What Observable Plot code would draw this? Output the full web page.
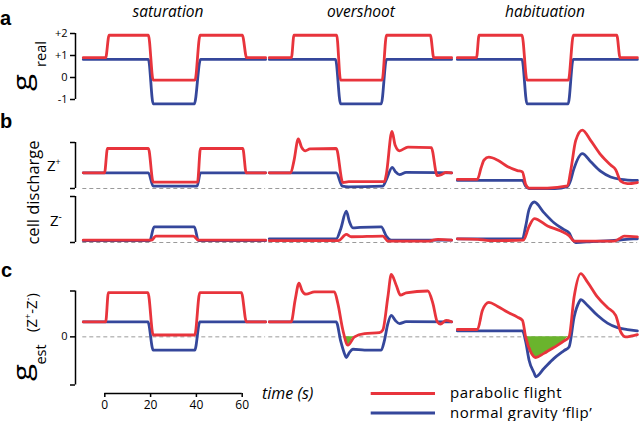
<!DOCTYPE html>
<html><head><meta charset="utf-8">
<script src="https://cdn.jsdelivr.net/npm/d3@7"></script>
<script src="https://cdn.jsdelivr.net/npm/@observablehq/plot@0.6"></script>
<style>
body{margin:0;background:#fff;}
#fig{position:relative;width:640px;height:421px;overflow:hidden;background:#fff;font-family:"Open Sans",sans-serif;}
#fig > svg{position:absolute;left:0;}
</style></head><body><div id="fig"></div>
<script>
// ---------- categories & labels ----------
const conditions = ["saturation", "overshoot", "habituation"];
const seriesNames = ["parabolic flight", "normal gravity \u2018flip\u2019"];
const timeTicks = [0, 20, 40, 60];
const gRealTicks = [-1, 0, 1, 2];

// ---------- row a : g real  [time s, g] ----------
const gRealFlightSat = [[-9.8,0.9],[0,0.9],[1.5,1.92],[18.7,1.92],[20.8,-0.12],[39.1,-0.12],[41.3,1.92],[59.8,1.92],[61.7,0.9],[70,0.9]];
const gRealFlipSat   = [[-9.8,0.82],[18.7,0.82],[20.8,-1.2],[38.8,-1.2],[41.5,0.82],[70,0.82]];
const gRealFlightOvr = [[-9.8,0.9],[-0.1,0.9],[1.0,1.92],[19.7,1.92],[21.4,-0.12],[39.6,-0.12],[41.5,1.92],[60.7,1.92],[62.2,0.9],[70,0.9]];
const gRealFlipOvr   = [[-9.8,0.82],[19.2,0.82],[21.4,-1.2],[39.2,-1.2],[41.5,0.82],[70,0.82]];
const gRealFlightHab = [[-8.9,0.9],[-0.5,0.9],[0.6,1.92],[19.4,1.92],[21.6,-0.12],[39.7,-0.12],[41.9,1.92],[60.9,1.92],[62.3,0.9],[69.9,0.9]];
const gRealFlipHab   = [[-8.9,0.82],[19.4,0.82],[21.6,-1.2],[39.6,-1.2],[41.8,0.82],[69.9,0.82]];

// ---------- row b : Z+ discharge [time s, a.u.] ----------
const zPlusFlightSat = [[-9.8,0.34],[-0.5,0.34],[0.8,0.87],[18.7,0.87],[20.8,0.14],[40.2,0.14],[41.5,0.87],[60,0.87],[61.5,0.34],[70,0.34]];
const zPlusFlipSat   = [[-9.8,0.34],[18.7,0.34],[20.8,0.05],[40,0.05],[41.5,0.34],[70,0.34]];
const zPlusFlightOvr = [[-9.8,0.34],[-0.4,0.34],[1.0,0.6],[2.9,1.08],[4.3,0.9],[6.0,0.82],[8.0,0.86],[19.5,0.87],[22.4,0.13],[25,0.15],[40.6,0.15],[41.4,0.3],[43.9,1.24],[45.3,0.94],[47.2,0.82],[50.9,0.9],[61.1,0.89],[63.7,0.28],[65.5,0.3],[67.6,0.35],[70,0.34]];
const zPlusFlipOvr   = [[-9.8,0.34],[19.5,0.34],[22.2,0.05],[25,0.035],[39.8,0.05],[41.5,0.2],[44,0.46],[45.5,0.36],[47.2,0.3],[50.1,0.35],[70,0.34]];
const zPlusFlightHab = [[-8.9,0.2],[-0.1,0.2],[1.5,0.45],[2.8,0.62],[4.9,0.68],[8.6,0.62],[13,0.48],[17.4,0.39],[19.6,0.36],[21,0.09],[22.5,0.01],[30.5,0.01],[39.3,0.055],[40.8,0.41],[42.9,1.04],[45.8,1.27],[49.5,1.04],[53.9,0.73],[58.2,0.51],[60.4,0.41],[62.6,0.16],[65.5,0.105],[69.9,0.13]];
const zPlusFlipHab   = [[-8.9,0.175],[19.6,0.175],[21,0.05],[22.5,0.0],[33.8,0.0],[39.3,0.04],[40.5,0.15],[42,0.41],[45.8,0.76],[49.5,0.58],[53.9,0.37],[58.2,0.25],[62.6,0.2],[69.9,0.175]];

// ---------- row b : Z- discharge [time s, a.u.] ----------
const zMinusFlightSat = [[-9.8,0.05],[20.1,0.05],[21.9,0.14],[38.4,0.14],[40.6,0.05],[70,0.05]];
const zMinusFlipSat   = [[-9.8,0.04],[19.3,0.04],[21.2,0.34],[38.8,0.34],[40.6,0.04],[70,0.04]];
const zMinusFlightOvr = [[-9.8,0.04],[20.4,0.04],[23.9,0.175],[26.1,0.125],[39.9,0.14],[42.1,0.03],[60,0.03],[64,0.07],[70,0.05]];
const zMinusFlipOvr   = [[-9.8,0.08],[19.5,0.08],[21.5,0.3],[23.9,0.68],[25.3,0.45],[26.8,0.32],[30,0.33],[39.2,0.34],[41.4,0.14],[43.6,0.05],[70,0.05]];
const zMinusFlightHab = [[-8.9,0.08],[0,0.07],[5,0.04],[20,0.05],[22.5,0.35],[24.8,0.52],[30.6,0.36],[36.4,0.25],[40,0.15],[42.2,0.03],[59.7,0.03],[62,0.08],[64.1,0.14],[69.9,0.12]];
const zMinusFlipHab   = [[-8.9,0.08],[19.6,0.08],[21,0.35],[22.5,0.72],[24.8,0.88],[29,0.65],[33.4,0.43],[37.8,0.28],[40,0.21],[41.5,0.066],[43,0.0],[50,0.02],[61,0.05],[68.3,0.08],[69.9,0.08]];

// ---------- row c : g est = Z+ - Z- [time s, a.u.] ----------
const gEstFlightSat = [[-9.8,0.325],[0,0.325],[1.2,0.965],[18.5,0.965],[20.8,0.04],[39,0.04],[41.2,0.965],[59.4,0.965],[61.6,0.325],[70,0.325]];
const gEstFlipSat   = [[-9.8,0.325],[18.5,0.325],[20.8,-0.29],[39,-0.29],[41.2,0.325],[70,0.325]];
const gEstFlightOvr = [[-9.8,0.325],[-0.2,0.325],[1.5,0.8],[3.2,1.17],[4.6,1.0],[6.3,0.93],[10,0.98],[18.7,0.98],[20.2,0.73],[22.4,0.15],[24.6,-0.18],[27.5,0.0],[31.9,0.07],[38.4,0.09],[39.9,0.15],[42.1,0.87],[43.6,1.36],[45.8,1.12],[47.6,0.91],[50.1,0.96],[59.6,1.0],[61.8,0.73],[63.7,0.33],[65.1,0.28],[67.6,0.36],[70,0.33]];
const gEstFlipOvr   = [[-9.8,0.325],[19.5,0.325],[21.5,-0.1],[23,-0.35],[23.9,-0.45],[25.3,-0.34],[26.8,-0.27],[31.9,-0.29],[39.2,-0.29],[40.5,-0.1],[42.1,0.29],[43.6,0.47],[45.3,0.36],[47.2,0.29],[50.1,0.33],[70,0.325]];
const gEstFlightHab = [[-8.9,0.16],[-0.1,0.16],[2.1,0.58],[4.9,0.75],[8.6,0.67],[13,0.54],[17.4,0.43],[19.6,0.36],[21,0.0],[23.2,-0.33],[25.4,-0.45],[29,-0.36],[33.4,-0.23],[37.8,-0.09],[40,0.0],[42.2,0.87],[45.1,1.38],[48,1.2],[52.4,0.87],[56.8,0.64],[60.4,0.47],[62.6,0.11],[64.8,0.0],[67,0.015],[69.9,0.05]];
const gEstFlipHab   = [[-8.9,0.13],[19.6,0.13],[21,-0.1],[22.5,-0.51],[24.8,-0.8],[25.4,-0.87],[29,-0.69],[33.4,-0.47],[37.8,-0.3],[40,-0.22],[42.2,0.43],[44.4,0.76],[45.1,0.81],[48,0.69],[52.4,0.47],[56.8,0.3],[61.2,0.2],[65.5,0.16],[69.9,0.13]];

// ---------- scale ranges (layout) ----------
const tDomain = [-13.2, 68.2];
const tSpan = [-10, 70];
const gRealDomain = [-1, 2];
const zDomain = [0, 1];
const gEstDomain = [-1.05, 1];

const RED = "#e8343c", BLUE = "#35479b", GREEN = "#6ab42d";

const tag = (cond, series, pts) => pts.map(([t, v]) => ({cond, series, t, v}));
function rowTable(fS, bS, fO, bO, fH, bH) {
  return [
    ...tag(conditions[0], seriesNames[1], bS), ...tag(conditions[0], seriesNames[0], fS),
    ...tag(conditions[1], seriesNames[1], bO), ...tag(conditions[1], seriesNames[0], fO),
    ...tag(conditions[2], seriesNames[1], bH), ...tag(conditions[2], seriesNames[0], fH)
  ];
}
const rowA = rowTable(gRealFlightSat, gRealFlipSat, gRealFlightOvr, gRealFlipOvr, gRealFlightHab, gRealFlipHab);
const rowZp = rowTable(zPlusFlightSat, zPlusFlipSat, zPlusFlightOvr, zPlusFlipOvr, zPlusFlightHab, zPlusFlipHab);
const rowZm = rowTable(zMinusFlightSat, zMinusFlipSat, zMinusFlightOvr, zMinusFlipOvr, zMinusFlightHab, zMinusFlipHab);
const rowC = rowTable(gEstFlightSat, gEstFlipSat, gEstFlightOvr, gEstFlipOvr, gEstFlightHab, gEstFlipHab);

const fig = document.getElementById("fig");

function rowPlot({top, marginTop, frameH, marginBottom, yDomain, yTicks, yFormat, data, zeroLine, fillNeg}) {
  const flight = data.filter(d => d.series === seriesNames[0]);
  const flip = data.filter(d => d.series === seriesNames[1]);
  const svg = Plot.plot({
    width: 640, height: marginTop + frameH + marginBottom,
    marginLeft: 74, marginRight: 6.5, marginTop, marginBottom,
    style: {background: "transparent", overflow: "visible", fontFamily: "Open Sans", fontSize: "11px", color: "#000"},
    fx: {domain: conditions, padding: 0, axis: null},
    x: {domain: tDomain, axis: null},
    y: {domain: yDomain},
    marks: [
      zeroLine ? Plot.ruleY([0], {x1: () => tSpan[0], x2: () => tSpan[1], stroke: "#9a9a9a", strokeWidth: 1, strokeDasharray: "4,3"}) : null,
      fillNeg ? Plot.areaY(flight, {x: "t", y1: () => 0, y2: d => Math.min(d.v, 0), fx: "cond", curve: "monotone-x", fill: GREEN}) : null,
      Plot.line(flip, {x: "t", y: "v", fx: "cond", stroke: BLUE, strokeWidth: 2.8, curve: "monotone-x"}),
      Plot.line(flight, {x: "t", y: "v", fx: "cond", stroke: RED, strokeWidth: 2.8, curve: "monotone-x"}),
      Plot.axisY({ticks: yTicks, tickFormat: yFormat, tickSize: 5, tickPadding: 3, strokeWidth: 1.5, label: null, fontSize: 11}),
      Plot.ruleX([conditions[0]], {fx: d => d, x: () => tDomain[0], y1: () => yDomain[0], y2: () => yDomain[1], strokeWidth: 1.5, stroke: "#000"})
    ]
  });
  svg.style.top = top + "px";
  fig.appendChild(svg);
}

rowPlot({top: 20, marginTop: 13, frameH: 66, marginBottom: 10, yDomain: gRealDomain, yTicks: gRealTicks,
  yFormat: d => d > 0 ? "+" + d : String(d), data: rowA, zeroLine: false, fillNeg: false});
rowPlot({top: 109, marginTop: 33, frameH: 46, marginBottom: 4, yDomain: zDomain, yTicks: zDomain,
  yFormat: () => "", data: rowZp, zeroLine: true, fillNeg: false});
rowPlot({top: 192, marginTop: 4, frameH: 46, marginBottom: 8, yDomain: zDomain, yTicks: zDomain,
  yFormat: () => "", data: rowZm, zeroLine: true, fillNeg: false});
rowPlot({top: 250, marginTop: 40.5, frameH: 94, marginBottom: 4, yDomain: gEstDomain, yTicks: [gEstDomain[0], 0, gEstDomain[1]],
  yFormat: d => d === 0 ? "0" : "", data: rowC, zeroLine: true, fillNeg: true});

// time axis under the first column
const timeAxis = Plot.plot({
  width: 262, height: 40, marginLeft: 104.3, marginRight: 20.3, marginTop: 4, marginBottom: 26,
  style: {background: "transparent", overflow: "visible", fontFamily: "Open Sans", fontSize: "12px", color: "#000"},
  x: {domain: d3.extent(timeTicks)},
  y: {domain: [0, 1], axis: null},
  marks: [
    Plot.ruleY([0], {x1: () => timeTicks[0], x2: () => timeTicks[timeTicks.length - 1], strokeWidth: 1.5, stroke: "#000"}),
    Plot.axisX({ticks: timeTicks, tickSize: 4, tickPadding: 3, strokeWidth: 1.5, label: null, fontSize: 12})
  ]
});
timeAxis.style.top = "378.7px";
fig.appendChild(timeAxis);

// ---------- text annotations ----------
const NS = "http://www.w3.org/2000/svg";
const ann = document.createElementNS(NS, "svg");
ann.setAttribute("width", 640); ann.setAttribute("height", 421);
ann.style.top = "0px"; ann.style.pointerEvents = "none";
ann.setAttribute("font-family", "Open Sans, sans-serif");
ann.innerHTML = `
<g font-family="Liberation Sans, Arial, sans-serif" font-weight="bold" font-size="20">
  <text x="0" y="25">a</text><text x="0" y="128">b</text><text x="1" y="277">c</text>
</g>
<g font-style="italic" font-size="15.5" text-anchor="middle">
  <text x="168" y="17">${conditions[0]}</text>
  <text x="361" y="17">${conditions[1]}</text>
  <text x="545" y="17">${conditions[2]}</text>
</g>
<text transform="translate(31,82.5) rotate(-90) scale(1.25,1)" text-anchor="middle" font-size="25">g</text>
<text transform="translate(45.5,54) rotate(-90)" text-anchor="middle" font-size="14.5">real</text>
<text transform="translate(39,192.5) rotate(-90)" text-anchor="middle" font-size="16.5">cell discharge</text>
<text x="47" y="171" font-size="15">Z<tspan font-size="9" dy="-6">+</tspan></text>
<text x="50" y="225.5" font-size="15">Z<tspan font-size="10" dy="-6">-</tspan></text>
<text transform="translate(37,312.5) rotate(-90)" text-anchor="middle" font-size="15">(Z<tspan font-size="9" dy="-6">+</tspan><tspan dy="6">-Z</tspan><tspan font-size="9" dy="-6">-</tspan><tspan dy="6">)</tspan></text>
<text transform="translate(31,372.5) rotate(-90) scale(1.25,1)" text-anchor="middle" font-size="25">g</text>
<text transform="translate(45.5,354.5) rotate(-90)" text-anchor="middle" font-size="14.5">est</text>
<text x="262" y="399" font-style="italic" font-size="16">time (s)</text>
<line x1="370.7" x2="435" y1="393.5" y2="393.5" stroke="${RED}" stroke-width="3"/>
<line x1="370.7" x2="435" y1="413" y2="413" stroke="${BLUE}" stroke-width="3"/>
<text x="450" y="397.5" font-size="15" letter-spacing="0.5">${seriesNames[0]}</text>
<text x="450" y="418" font-size="15" letter-spacing="0.5">${seriesNames[1]}</text>
`;
fig.appendChild(ann);
</script></body></html>
